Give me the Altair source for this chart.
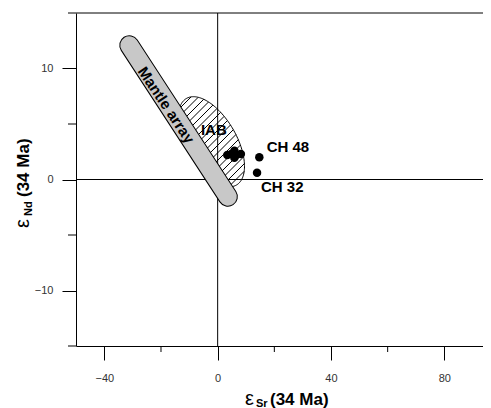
import altair as alt
import numpy as np
import pandas as pd

# ---- axes ----
X_DOMAIN = [-50, 93.65]
Y_DOMAIN = [-15, 15]
X_TICKS = [-40, 0, 40, 80]
X_MINOR = [-20, 20, 60]
Y_TICKS = [-10, 0, 10]
Y_MINOR = [-15, -5, 5, 15]
W, H = 407, 333

# ---- samples (eSr, eNd) ----
sample_x = [3.4, 4.8, 5.9, 5.9, 6.6, 8.2, 14.7, 13.9]
sample_y = [2.2, 2.3, 2.6, 1.95, 2.2, 2.3, 2.0, 0.6]

# ---- labels ----
label_text = ["CH 48", "CH 32", "IAB"]
label_x = [17.3, 15.3, -5.9]
label_y = [2.45, -1.15, 4.0]

# ---- mantle array (centre line end points) ----
mantle_x = [-31.2, 3.6]
mantle_y = [12.1, -1.55]
mantle_label = "Mantle array"
mantle_label_x = [-18.2]
mantle_label_y = [6.7]

# ---- IAB field (centre in data units) ----
iab_center = [-2.2, 3.4]

FONT = "Liberation Sans"

sx = W / (X_DOMAIN[1] - X_DOMAIN[0])
sy = H / (Y_DOMAIN[1] - Y_DOMAIN[0])


def to_data(px, py):
    return X_DOMAIN[0] + px / sx, Y_DOMAIN[1] - py / sy


# ellipse outline, built in screen space
cxp = (iab_center[0] - X_DOMAIN[0]) * sx
cyp = (Y_DOMAIN[1] - iab_center[1]) * sy
EA, EB, PHI = 50.0, 25.0, np.radians(60)
cph, sph = np.cos(PHI), np.sin(PHI)
tt = np.linspace(0, 2 * np.pi, 181)
epx = cxp + EA * np.cos(tt) * cph - EB * np.sin(tt) * sph
epy = cyp + EA * np.cos(tt) * sph + EB * np.sin(tt) * cph
ex, ey = to_data(epx, epy)
ell_df = pd.DataFrame({"x": ex, "y": ey, "i": np.arange(len(tt))})

# hatch lines "/" (x + y = c in screen space)
segs = []
cs = epx + epy
for c in np.arange(np.floor(cs.min()) + 4, cs.max(), 7.5):
    a1 = cph - sph
    b1 = -cxp * cph + (c - cyp) * sph
    a2 = -sph - cph
    b2 = cxp * sph + (c - cyp) * cph
    qa = a1 ** 2 / EA ** 2 + a2 ** 2 / EB ** 2
    qb = 2 * (a1 * b1 / EA ** 2 + a2 * b2 / EB ** 2)
    qc = b1 ** 2 / EA ** 2 + b2 ** 2 / EB ** 2 - 1
    disc = qb ** 2 - 4 * qa * qc
    if disc <= 0:
        continue
    r = np.sqrt(disc)
    s1 = (-qb - r) / (2 * qa)
    s2 = (-qb + r) / (2 * qa)
    x1, y1 = to_data(s1, c - s1)
    x2, y2 = to_data(s2, c - s2)
    segs.append({"x": x1, "y": y1, "x2": x2, "y2": y2})
hatch_df = pd.DataFrame(segs)

AX = alt.Axis(values=X_TICKS, tickSize=14, labelPadding=12, grid=False, title=None,
              domainColor="black", tickColor="black", labelColor="#333333",
              labelFont=FONT, labelFontSize=11, format="d", labelFlush=False)
AY = alt.Axis(values=Y_TICKS, tickSize=14, labelPadding=9, grid=False, title=None,
              domainColor="black", tickColor="black", labelColor="#333333",
              labelFont=FONT, labelFontSize=11, format="d", labelFlush=False)
XS = alt.Scale(domain=X_DOMAIN, nice=False, zero=False)
YS = alt.Scale(domain=Y_DOMAIN, nice=False, zero=False)


def X(f):
    return alt.X(f, type="quantitative", scale=XS, axis=AX)


def Y(f):
    return alt.Y(f, type="quantitative", scale=YS, axis=AY)


cross_v = alt.Chart(pd.DataFrame({"x": [0], "y": [Y_DOMAIN[0]], "y2": [Y_DOMAIN[1]]})).mark_rule(
    color="black", strokeWidth=1).encode(x=X("x"), y=Y("y"), y2="y2")
cross_h = alt.Chart(pd.DataFrame({"x": [X_DOMAIN[0], X_DOMAIN[0]], "x2": [X_DOMAIN[1], X_DOMAIN[1]],
                                  "y": [0, Y_DOMAIN[1]]})).mark_rule(
    color="black", strokeWidth=1).encode(x=X("x"), x2="x2", y=Y("y"))

xminor = alt.Chart(pd.DataFrame({"v": X_MINOR})).mark_rule(color="black").encode(
    x=X("v"), y=alt.value(H), y2=alt.value(H + 6))
yminor = alt.Chart(pd.DataFrame({"v": Y_MINOR})).mark_rule(color="black").encode(
    y=Y("v"), x=alt.value(0), x2=alt.value(-8))

hatch = alt.Chart(hatch_df).mark_rule(color="black", strokeWidth=1).encode(
    x=X("x"), y=Y("y"), x2="x2", y2="y2")
ellipse = alt.Chart(ell_df).mark_line(color="black", strokeWidth=1).encode(
    x=X("x"), y=Y("y"), order="i:Q")

mdf = pd.DataFrame({"x": mantle_x, "y": mantle_y})
mantle_out = alt.Chart(mdf).mark_line(color="black", strokeWidth=20, strokeCap="round").encode(
    x=X("x"), y=Y("y"))
mantle_in = alt.Chart(mdf).mark_line(color="#c8c8c8", strokeWidth=18, strokeCap="round").encode(
    x=X("x"), y=Y("y"))
mantle_txt = alt.Chart(pd.DataFrame({"x": mantle_label_x, "y": mantle_label_y, "t": [mantle_label]})).mark_text(
    font=FONT, fontSize=15, fontWeight="bold", angle=56, align="center", baseline="middle", color="black"
).encode(x=X("x"), y=Y("y"), text="t")

labels = alt.Chart(pd.DataFrame({"x": label_x, "y": label_y, "t": label_text})).mark_text(
    font=FONT, fontSize=15, fontWeight="bold", align="left", baseline="alphabetic", color="black"
).encode(x=X("x"), y=Y("y"), text="t")

points = alt.Chart(pd.DataFrame({"x": sample_x, "y": sample_y})).mark_circle(
    size=72, color="black", opacity=1).encode(x=X("x"), y=Y("y"))

one = pd.DataFrame({"a": [0]})


def title_piece(txt, x, y, size, weight="bold", angle=0):
    return alt.Chart(one).mark_text(font=FONT, fontSize=size, fontWeight=weight, angle=angle,
                                    align="left", baseline="alphabetic", color="black").encode(
        x=alt.value(x), y=alt.value(y), text=alt.value(txt))


titles = [
    title_piece("ε", 169, 392, 20, "normal"),
    title_piece("Sr", 180, 393.5, 11),
    title_piece("(34 Ma)", 194, 392, 17),
    title_piece("ε", -47, 215, 20, "normal", 270),
    title_piece("Nd", -44.5, 203, 11, "bold", 270),
    title_piece("(34 Ma)", -47.5, 184, 17, "bold", 270),
]

chart = alt.layer(
    cross_v, cross_h, xminor, yminor, hatch, ellipse, mantle_out, mantle_in, mantle_txt,
    labels, points, *titles
).properties(
    width=W, height=H,
    padding={"left": 68, "top": 5, "right": 0, "bottom": 62},
    autosize=alt.AutoSizeParams(type="none"),
).configure_view(stroke=None)

chart.save("out.html", embed_options={"renderer": "svg", "actions": False})
